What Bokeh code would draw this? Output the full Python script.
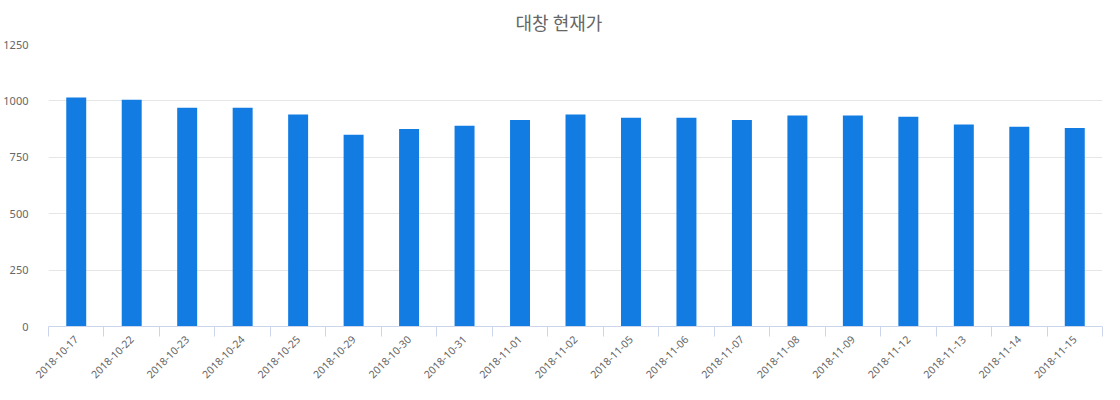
from bokeh.plotting import figure
from bokeh.models import ColumnDataSource, FixedTicker, Range1d
from bokeh.embed import file_html
from bokeh.resources import INLINE
import math

title_text = "대창 현재가"
dates = ["2018-10-17", "2018-10-22", "2018-10-23", "2018-10-24", "2018-10-25",
         "2018-10-29", "2018-10-30", "2018-10-31", "2018-11-01", "2018-11-02",
         "2018-11-05", "2018-11-06", "2018-11-07", "2018-11-08", "2018-11-09",
         "2018-11-12", "2018-11-13", "2018-11-14", "2018-11-15"]
prices = [1015, 1005, 970, 970, 940, 850, 875, 890, 915, 940,
          925, 925, 915, 935, 935, 930, 895, 885, 880]
y_ticks = [0, 250, 500, 750, 1000, 1250]

n = len(dates)
centers = [i + 0.5 for i in range(n)]
src = ColumnDataSource(dict(x=centers, top=prices, date=dates))

p = figure(width=1104, height=384, output_backend="svg", toolbar_location=None,
           x_range=Range1d(0, n), y_range=Range1d(0, max(y_ticks)),
           min_border_left=40, min_border_right=2, min_border_bottom=10,
           min_border_top=0)

p.title.text = title_text
p.title.align = "left"
p.title.vertical_align = "top"
p.title.text_font = "Noto Sans CJK KR"
p.title.text_font_size = "18px"
p.title.text_font_style = "normal"
p.title.text_color = "#666666"
p.title.offset = 467
p.title.standoff = 16

p.vbar(x="x", top="top", width=0.36, bottom=0, source=src,
       fill_color="#127ce2", line_color=None)

p.outline_line_color = None
p.background_fill_color = "white"
p.border_fill_color = "white"

# x axis
xa = p.xaxis[0]
xa.ticker = FixedTicker(ticks=centers, minor_ticks=list(range(n + 1)))
xa.major_label_overrides = {c: d for c, d in zip(centers, dates)}
xa.major_label_orientation = math.pi / 4
xa.major_tick_out = 0
xa.major_tick_in = 0
xa.minor_tick_out = 10
xa.minor_tick_in = 0
xa.minor_tick_line_color = "#ccd6eb"
xa.axis_line_color = "#ccd6eb"
xa.major_label_text_font = "Noto Sans"
xa.major_label_text_font_size = "10.5px"
xa.major_label_text_color = "#666666"
xa.major_label_standoff = 1

# y axis
ya = p.yaxis[0]
ya.ticker = FixedTicker(ticks=y_ticks)
ya.axis_line_color = None
ya.major_tick_line_color = None
ya.minor_tick_line_color = None
ya.major_label_text_font = "Noto Sans"
ya.major_label_text_font_size = "11px"
ya.major_label_text_color = "#666666"
ya.major_label_standoff = 14

p.xgrid.visible = False
p.ygrid.grid_line_color = "#e6e6e6"
p.ygrid.ticker = FixedTicker(ticks=y_ticks)

open("out.html", "w").write(file_html(p, INLINE))
